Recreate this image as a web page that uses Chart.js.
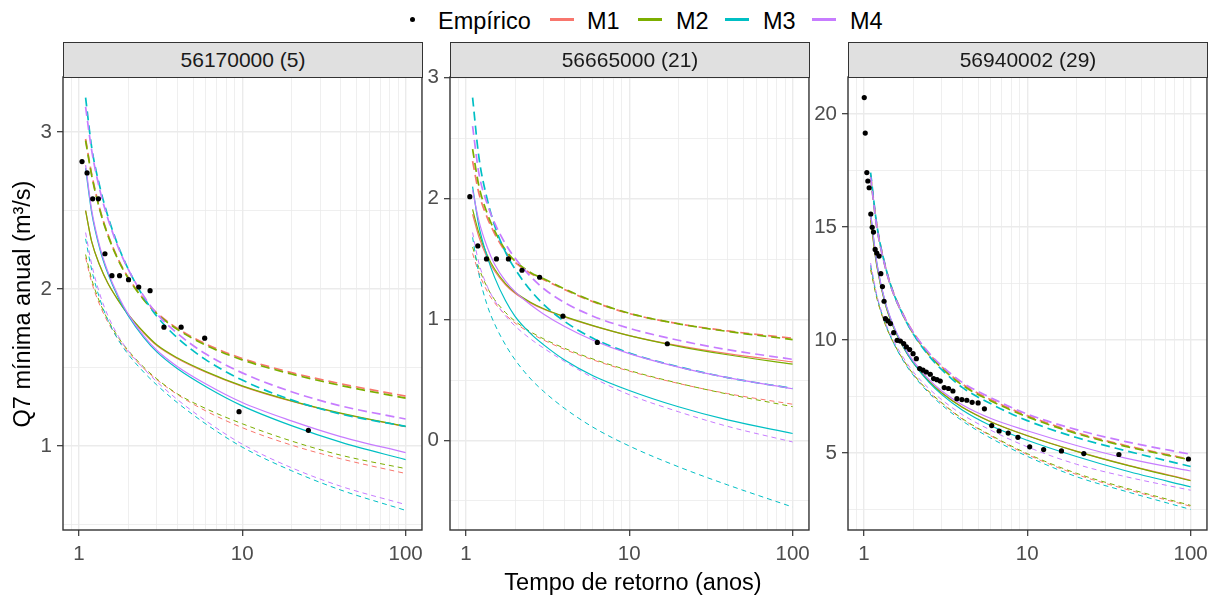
<!DOCTYPE html>
<html>
<head>
<meta charset="utf-8">
<script src="https://cdn.jsdelivr.net/npm/chart.js@4/dist/chart.umd.min.js"></script>
<style>
  body { margin: 0; background: #fff; font-family: "Liberation Sans", Arial, sans-serif; }
  #wrap { position: relative; width: 1220px; height: 598px; overflow: hidden; }
  canvas { position: absolute; }
  .strip { position: absolute; top: 42px; width: 360px; height: 36px; box-sizing: border-box;
           background: #E0E0E0; border: 1.4px solid #333; text-align: center;
           font-size: 21px; line-height: 33px; color: #1A1A1A; }
  .txt { position: absolute; font-size: 23.5px; line-height: 24px; color: #000; white-space: nowrap; }
  .key { position: absolute; top: 18px; width: 24px; height: 2.6px; }
  .dot { position: absolute; left: 410px; top: 17px; width: 5px; height: 5px; border-radius: 50%; background: #000; }
  #ytitle { position: absolute; left: -178px; top: 291.5px; width: 400px; text-align: center;
            transform: rotate(-90deg); font-size: 23.5px; line-height: 24px; white-space: nowrap; }
  #xtitle { position: absolute; left: 433px; top: 570px; width: 400px; text-align: center;
            font-size: 23.5px; line-height: 24px; }
</style>
</head>
<body>
<div id="wrap">
  <canvas id="c1" width="428" height="522" style="left:1px;top:53px"></canvas>
  <canvas id="c2" width="428" height="522" style="left:388px;top:53px"></canvas>
  <canvas id="c3" width="428" height="522" style="left:786px;top:53px"></canvas>

  <div class="strip" style="left:63px">56170000 (5)</div>
  <div class="strip" style="left:450px">56665000 (21)</div>
  <div class="strip" style="left:848px">56940002 (29)</div>

  <div class="dot"></div>
  <div class="txt" style="left:438px;top:9px">Empírico</div>
  <div class="key" style="left:550px;background:#F8766D"></div>
  <div class="txt" style="left:587px;top:9px">M1</div>
  <div class="key" style="left:638px;background:#7CAE00"></div>
  <div class="txt" style="left:676px;top:9px">M2</div>
  <div class="key" style="left:725px;background:#00BFC4"></div>
  <div class="txt" style="left:763px;top:9px">M3</div>
  <div class="key" style="left:812px;background:#C77CFF"></div>
  <div class="txt" style="left:850px;top:9px">M4</div>

  <div id="ytitle">Q7 mínima anual (m³/s)</div>
  <div id="xtitle">Tempo de retorno (anos)</div>
</div>

<script>
// return periods (anos) where the fitted curves were read
const curveT = [1.1, 1.2, 1.35, 1.5, 1.75, 2, 2.5, 3, 4, 6, 10, 20, 40, 100];

// x grid / tick values (log axis), labelled ones
const xGrid = [0.9, 1, 2, 3, 4, 5, 6, 7, 8, 9, 10, 20, 30, 40, 50, 60, 70, 80, 90, 100];
const xLabels = [1, 10, 100];

// ---- 56170000 (5) ----
const p1ObsT = [1.046, 1.123, 1.216, 1.318, 1.445, 1.594, 1.775, 2.014, 2.326, 2.729, 3.319, 4.227, 5.89, 9.56, 25.4];
const p1ObsQ = [2.812, 2.74, 2.575, 2.575, 2.225, 2.085, 2.085, 2.06, 2.013, 1.99, 1.757, 1.757, 1.687, 1.219, 1.1];
const p1M1   = [2.5, 2.3, 2.145, 2.04, 1.925, 1.838, 1.72, 1.64, 1.558, 1.47, 1.38, 1.285, 1.207, 1.123];
const p1M1Lo = [2.2, 2.041, 1.893, 1.792, 1.678, 1.6, 1.494, 1.423, 1.329, 1.223, 1.117, 1.006, 0.919, 0.825];
const p1M1Hi = [2.956, 2.729, 2.504, 2.353, 2.186, 2.076, 1.936, 1.849, 1.75, 1.65, 1.558, 1.468, 1.397, 1.318];
const p1M2   = [2.5, 2.3, 2.145, 2.04, 1.925, 1.84, 1.725, 1.645, 1.562, 1.474, 1.383, 1.288, 1.21, 1.125];
const p1M2Lo = [2.22, 2.06, 1.91, 1.807, 1.69, 1.61, 1.502, 1.428, 1.333, 1.238, 1.142, 1.032, 0.942, 0.856];
const p1M2Hi = [2.946, 2.72, 2.497, 2.347, 2.181, 2.071, 1.931, 1.844, 1.744, 1.642, 1.549, 1.459, 1.386, 1.305];
const p1M3   = [2.77, 2.484, 2.249, 2.103, 1.942, 1.832, 1.691, 1.6, 1.494, 1.378, 1.256, 1.13, 1.025, 0.913];
const p1M3Lo = [2.32, 2.12, 1.931, 1.807, 1.673, 1.586, 1.47, 1.389, 1.277, 1.14, 0.993, 0.843, 0.72, 0.59];
const p1M3Hi = [3.22, 2.899, 2.644, 2.47, 2.269, 2.13, 1.946, 1.827, 1.69, 1.549, 1.42, 1.294, 1.204, 1.125];
const p1M4   = [2.79, 2.5, 2.262, 2.115, 1.953, 1.842, 1.7, 1.61, 1.507, 1.395, 1.277, 1.16, 1.06, 0.958];
const p1M4Lo = [2.36, 2.155, 1.962, 1.835, 1.698, 1.609, 1.492, 1.41, 1.297, 1.16, 1.012, 0.862, 0.744, 0.627];
const p1M4Hi = [3.16, 2.88, 2.624, 2.455, 2.261, 2.128, 1.954, 1.843, 1.718, 1.586, 1.466, 1.346, 1.256, 1.172];

// ---- 56665000 (21) ----
const p2ObsT = [1.058, 1.184, 1.338, 1.539, 1.822, 2.206, 2.83, 3.93, 6.38, 17.1];
const p2ObsQ = [2.016, 1.609, 1.502, 1.502, 1.502, 1.408, 1.35, 1.028, 0.811, 0.8];
const p2M1   = [1.871, 1.686, 1.512, 1.402, 1.288, 1.218, 1.136, 1.085, 1.022, 0.948, 0.868, 0.784, 0.718, 0.65];
const p2M1Lo = [1.547, 1.388, 1.235, 1.139, 1.039, 0.972, 0.887, 0.83, 0.755, 0.667, 0.574, 0.472, 0.388, 0.3];
const p2M1Hi = [2.31, 2.049, 1.845, 1.712, 1.56, 1.475, 1.38, 1.33, 1.25, 1.148, 1.05, 0.966, 0.906, 0.846];
const p2M2   = [1.912, 1.72, 1.535, 1.418, 1.298, 1.226, 1.142, 1.09, 1.026, 0.95, 0.867, 0.779, 0.709, 0.632];
const p2M2Lo = [1.6, 1.43, 1.268, 1.165, 1.058, 0.987, 0.898, 0.84, 0.764, 0.674, 0.579, 0.474, 0.384, 0.28];
const p2M2Hi = [2.41, 2.11, 1.88, 1.735, 1.575, 1.485, 1.388, 1.337, 1.255, 1.152, 1.052, 0.965, 0.902, 0.835];
const p2M3   = [2.1, 1.779, 1.523, 1.349, 1.155, 1.027, 0.882, 0.791, 0.668, 0.536, 0.414, 0.279, 0.17, 0.058];
const p2M3Lo = [1.68, 1.381, 1.12, 0.964, 0.79, 0.668, 0.508, 0.405, 0.268, 0.11, -0.045, -0.217, -0.367, -0.55];
const p2M3Hi = [2.835, 2.351, 1.998, 1.778, 1.557, 1.418, 1.239, 1.124, 0.987, 0.846, 0.724, 0.61, 0.52, 0.43];
const p2M4   = [2.07, 1.82, 1.6, 1.458, 1.318, 1.231, 1.12, 1.045, 0.945, 0.829, 0.718, 0.607, 0.52, 0.428];
const p2M4Lo = [1.72, 1.471, 1.277, 1.158, 1.031, 0.947, 0.838, 0.763, 0.656, 0.519, 0.379, 0.238, 0.117, -0.012];
const p2M4Hi = [2.6, 2.215, 1.959, 1.799, 1.625, 1.509, 1.354, 1.255, 1.142, 1.028, 0.928, 0.829, 0.751, 0.671];

// ---- 56940002 (29) ----
const p3ObsT = [1.006, 1.02, 1.043, 1.058, 1.078, 1.103, 1.125, 1.146, 1.173, 1.2, 1.24, 1.27, 1.3, 1.33, 1.356,
  1.401, 1.455, 1.523, 1.599, 1.674, 1.754, 1.822, 1.908, 2.001, 2.096, 2.195, 2.302, 2.412, 2.551, 2.672,
  2.803, 2.936, 3.105, 3.299, 3.509, 3.711, 3.981, 4.27, 4.6, 5.004, 5.47, 6.06, 6.73, 7.65, 8.77,
  10.35, 12.6, 16.2, 22.2, 36.4, 97];
const p3ObsQ = [20.72, 19.15, 17.4, 17.03, 16.73, 15.57, 14.98, 14.77, 14.0, 13.84, 13.71, 12.93, 12.36, 11.71, 10.94,
  10.84, 10.72, 10.32, 9.98, 9.95, 9.84, 9.69, 9.57, 9.39, 9.17, 8.73, 8.66, 8.58, 8.48, 8.29,
  8.24, 8.18, 7.89, 7.85, 7.74, 7.4, 7.36, 7.33, 7.24, 7.21, 6.95, 6.21, 5.97, 5.88, 5.69,
  5.27, 5.15, 5.09, 4.97, 4.93, 4.73];
const p3M1   = [15.4, 13.32, 11.63, 10.67, 9.67, 9.01, 8.18, 7.66, 7.03, 6.38, 5.77, 5.08, 4.48, 3.79];
const p3M1Lo = [13.2, 11.9, 10.7, 9.95, 9.1, 8.5, 7.7, 7.2, 6.5, 5.75, 4.93, 4.05, 3.4, 2.64];
const p3M1Hi = [17.3, 15.1, 13.3, 12.2, 11.1, 10.35, 9.4, 8.8, 8.05, 7.35, 6.65, 5.9, 5.33, 4.71];
const p3M2   = [15.3, 13.27, 11.6, 10.65, 9.66, 9.0, 8.17, 7.65, 7.02, 6.37, 5.76, 5.07, 4.47, 3.77];
const p3M2Lo = [13.1, 11.85, 10.7, 9.95, 9.1, 8.5, 7.72, 7.22, 6.52, 5.78, 4.97, 4.1, 3.45, 2.68];
const p3M2Hi = [17.2, 15.0, 13.25, 12.15, 11.05, 10.3, 9.35, 8.75, 8.0, 7.3, 6.6, 5.86, 5.29, 4.69];
const p3M3   = [15.6, 13.42, 11.68, 10.7, 9.68, 9.0, 8.13, 7.58, 6.9, 6.2, 5.56, 4.84, 4.21, 3.5];
const p3M3Lo = [13.3, 11.95, 10.75, 9.95, 9.05, 8.45, 7.65, 7.12, 6.42, 5.65, 4.85, 3.95, 3.3, 2.5];
const p3M3Hi = [17.4, 15.1, 13.3, 12.18, 11.05, 10.28, 9.3, 8.68, 7.9, 7.17, 6.43, 5.68, 5.1, 4.4];
const p3M4   = [15.6, 13.42, 11.7, 10.73, 9.73, 9.08, 8.25, 7.74, 7.13, 6.52, 5.98, 5.33, 4.77, 4.2];
const p3M4Lo = [13.4, 12.0, 10.8, 10.05, 9.2, 8.6, 7.85, 7.35, 6.7, 6.0, 5.27, 4.5, 3.95, 3.35];
const p3M4Hi = [17.2, 15.0, 13.25, 12.15, 11.08, 10.35, 9.43, 8.85, 8.12, 7.44, 6.72, 6.03, 5.5, 4.94];

const colors = { M1: "#F8766D", M2: "#7CAE00", M3: "#00BFC4", M4: "#C77CFF" };
const FONT = "'Liberation Sans', Arial, sans-serif";

const panels = [
  { id: "c1", yMin: 0.465, yMax: 3.351, yTicks: [0.5, 1, 1.5, 2, 2.5, 3], yLabels: [1, 2, 3],
    obsT: p1ObsT, obsQ: p1ObsQ,
    curves: { M1: [p1M1, p1M1Lo, p1M1Hi], M2: [p1M2, p1M2Lo, p1M2Hi], M3: [p1M3, p1M3Lo, p1M3Hi], M4: [p1M4, p1M4Lo, p1M4Hi] } },
  { id: "c2", yMin: -0.74, yMax: 3.006, yTicks: [-0.5, 0, 0.5, 1, 1.5, 2, 2.5, 3], yLabels: [0, 1, 2, 3],
    obsT: p2ObsT, obsQ: p2ObsQ,
    curves: { M1: [p2M1, p2M1Lo, p2M1Hi], M2: [p2M2, p2M2Lo, p2M2Hi], M3: [p2M3, p2M3Lo, p2M3Hi], M4: [p2M4, p2M4Lo, p2M4Hi] } },
  { id: "c3", yMin: 1.59, yMax: 21.63, yTicks: [2.5, 5, 7.5, 10, 12.5, 15, 17.5, 20], yLabels: [5, 10, 15, 20],
    obsT: p3ObsT, obsQ: p3ObsQ,
    curves: { M1: [p3M1, p3M1Lo, p3M1Hi], M2: [p3M2, p3M2Lo, p3M2Hi], M3: [p3M3, p3M3Lo, p3M3Hi], M4: [p3M4, p3M4Lo, p3M4Hi] } }
];

// full border around the plotting area, like the facet panels
const panelBorder = {
  id: "panelBorder",
  afterDraw(chart) {
    const a = chart.chartArea, ctx = chart.ctx;
    ctx.save();
    ctx.strokeStyle = "#333333";
    ctx.lineWidth = 1.4;
    ctx.strokeRect(a.left, a.top, a.right - a.left, a.bottom - a.top);
    ctx.restore();
  }
};

const toXY = (xs, ys) => xs.map((x, i) => ({ x: x, y: ys[i] }));

panels.forEach(p => {
  const datasets = [{
    label: "Empírico",
    data: toXY(p.obsT, p.obsQ),
    showLine: false,
    pointRadius: 2.6,
    pointBackgroundColor: "#000",
    pointBorderWidth: 0,
    order: 0
  }];

  ["M1", "M2", "M3", "M4"].forEach((m, k) => {
    const [mid, lo, hi] = p.curves[m];
    const common = { borderColor: colors[m], pointRadius: 0, fill: false,
                     cubicInterpolationMode: "monotone", order: 4 - k };
    datasets.push(Object.assign({ label: m, data: toXY(curveT, mid), borderWidth: 1.2 }, common));
    datasets.push(Object.assign({ label: m + " inf", data: toXY(curveT, lo), borderWidth: 1.0, borderDash: [5, 4] }, common));
    datasets.push(Object.assign({ label: m + " sup", data: toXY(curveT, hi), borderWidth: 1.7, borderDash: [9, 5] }, common));
  });

  new Chart(document.getElementById(p.id), {
    type: "line",
    data: { datasets: datasets },
    options: {
      responsive: false,
      animation: false,
      devicePixelRatio: 1,
      layout: { padding: { left: 0, right: 6, top: 24, bottom: 0 } },
      plugins: { legend: { display: false }, tooltip: { enabled: false } },
      scales: {
        x: {
          type: "logarithmic",
          min: 0.8, max: 125.9,
          bounds: "data",
          afterBuildTicks: s => { s.ticks = xGrid.map(v => ({ value: v })); },
          afterFit: s => { s.height = 45; },
          ticks: {
            autoSkip: false, maxRotation: 0, padding: 6, color: "#4D4D4D",
            font: { family: FONT, size: 20.5 },
            callback: v => xLabels.includes(v) ? String(v) : ""
          },
          grid: {
            color: "#EBEBEB",
            lineWidth: c => (c.tick && xLabels.includes(c.tick.value)) ? 1.4 : 0.8,
            tickLength: 6,
            tickWidth: 1.2,
            tickColor: c => (c.tick && xLabels.includes(c.tick.value)) ? "#333333" : "rgba(0,0,0,0)"
          },
          border: { display: false }
        },
        y: {
          type: "linear",
          min: p.yMin, max: p.yMax,
          bounds: "data",
          afterBuildTicks: s => { s.ticks = p.yTicks.map(v => ({ value: v })); },
          afterFit: s => { s.width = 62; },
          ticks: {
            padding: 5, color: "#4D4D4D",
            font: { family: FONT, size: 20.5 },
            callback: v => p.yLabels.includes(v) ? String(v) : ""
          },
          grid: {
            color: "#EBEBEB",
            lineWidth: c => (c.tick && p.yLabels.includes(c.tick.value)) ? 1.4 : 0.8,
            tickLength: 6,
            tickWidth: 1.2,
            tickColor: c => (c.tick && p.yLabels.includes(c.tick.value)) ? "#333333" : "rgba(0,0,0,0)"
          },
          border: { display: false }
        }
      }
    },
    plugins: [panelBorder]
  });
});
</script>
</body>
</html>
